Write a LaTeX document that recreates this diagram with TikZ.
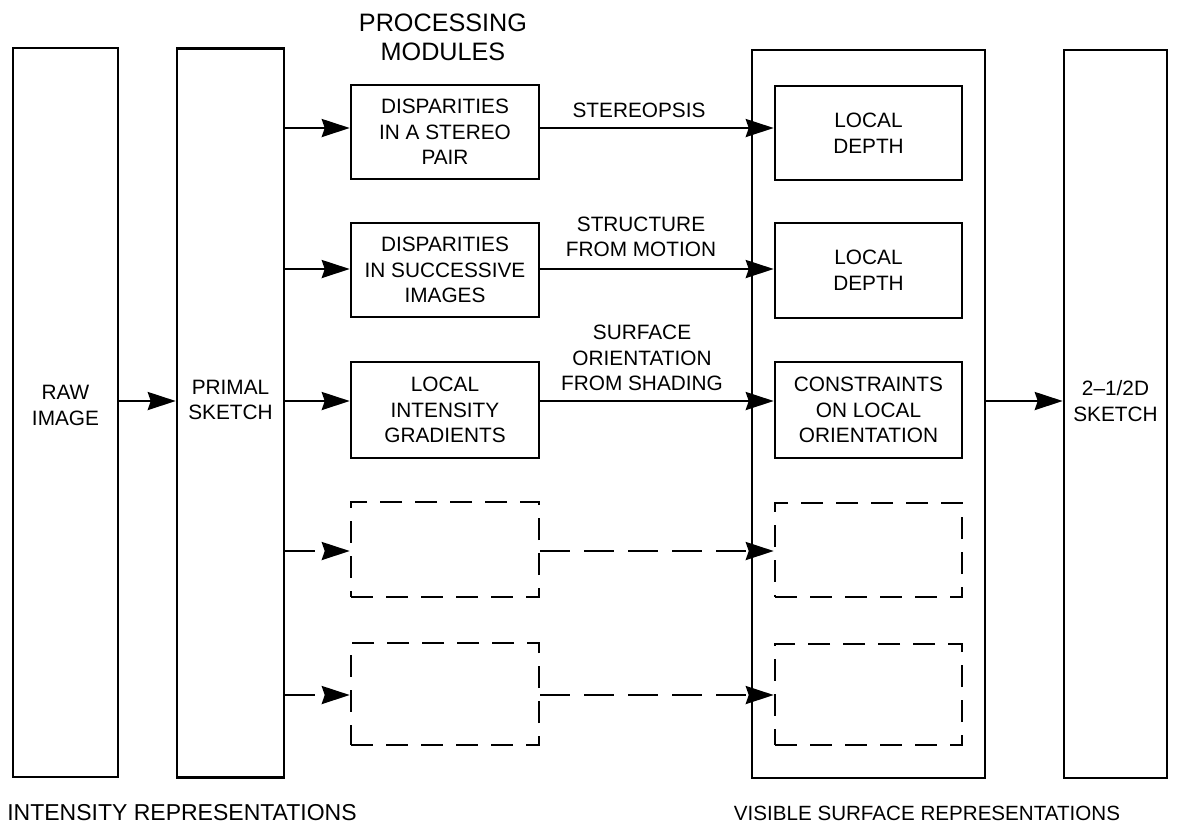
\documentclass[tikz,border=0pt]{standalone}
\usepackage{fontspec}
\setmainfont{Liberation Sans}
\usetikzlibrary{arrows.meta,positioning}

\begin{document}
\begin{tikzpicture}[
    x=.5pt,y=-.5pt,
    every node/.style={font=\fontsize{10.4}{12.8}\selectfont,align=center},
    blk/.style={draw,line width=1.25pt,rectangle,inner sep=0pt},
    col/.style={blk,minimum width=#1,minimum height=364.5pt},
    mod/.style={blk,minimum width=94pt,minimum height=47pt},
    ghost/.style={mod,dash pattern=on 11pt off 6.5pt},
    reptext/.style={font=\fontsize{#1}{13}\selectfont},
    e/.style={-{Stealth[length=14pt,width=9pt,inset=1.5pt]},line width=1.25pt},
    de/.style={e,dash pattern=on 15pt off 7pt}
  ]
    \useasboundingbox (0,0) rectangle (1177,827);
    % rows of arrows
    \coordinate (r1) at (0,128);
    \coordinate (r2) at (0,269);
    \coordinate (r3) at (0,401);
    \coordinate (r4) at (0,551);
    \coordinate (r5) at (0,695);

    \node[col=52.5pt,label={[yshift=3.5pt]center:RAW\\IMAGE}] (raw) at (65.5,412.5) {};
    \node[col=53.5pt,label={[yshift=6.5pt]center:PRIMAL\\SKETCH}] (primal) at (230.5,413) {};
    \node[font=\fontsize{12.6}{14.5}\selectfont] (title) at (443,37) {PROCESSING\\MODULES};

    \node[mod] (m1) at (445,132) {DISPARITIES\\IN A STEREO\\PAIR};
    \node[mod] (m2) at (445,270) {DISPARITIES\\IN SUCCESSIVE\\IMAGES};
    \node[mod,minimum height=48pt] (m3) at (445,410) {LOCAL\\INTENSITY\\GRADIENTS};
    \node[ghost,minimum height=47.5pt] (m4) at (445,549.5) {};
    \node[ghost,minimum height=51pt] (m5) at (445,694) {};

    \node[col=116.5pt,minimum height=364pt] (vis) at (868.5,414) {};
    \node[mod,minimum width=93.5pt] (d1) at (868.5,133) {LOCAL\\DEPTH};
    \node[mod,minimum width=93.5pt,minimum height=47.5pt] (d2) at (868.5,270.5) {LOCAL\\DEPTH};
    \node[mod,minimum width=93.5pt,minimum height=48pt] (d3) at (868.5,410) {CONSTRAINTS\\ON LOCAL\\ORIENTATION};
    \node[ghost,minimum width=93.5pt] (d4) at (868.5,550) {};
    \node[ghost,minimum width=93.5pt,minimum height=50.5pt] (d5) at (868.5,694.5) {};

    \node[col=51.5pt,minimum height=364pt,label={[yshift=6.5pt]center:2--1/2D\\SKETCH}] (sketch) at (1115.5,414) {};

    \node (l1) at (639,110) {STEREOPSIS};
    \node (l2) at (641,237) {STRUCTURE\\FROM MOTION};
    \node (l3) at (642,358) {SURFACE\\ORIENTATION\\FROM SHADING};

    \node[reptext=11.5] (intens) at (182,813) {INTENSITY REPRESENTATIONS};
    \node[reptext=10.3] (visib) at (927,813) {VISIBLE SURFACE REPRESENTATIONS};

    \draw[e] (raw.east |- r3) -- (primal.west |- r3);
    \foreach \i in {1,2,3} {
      \draw[e] (primal.east |- r\i) -- (m\i.west |- r\i);
      \draw[e] (m\i.east |- r\i) -- (d\i.west |- r\i);
    }
    \foreach \i in {4,5} {
      \draw[de] (primal.east |- r\i) -- (m\i.west |- r\i);
      \draw[de] (m\i.east |- r\i) -- (d\i.west |- r\i);
    }
    \draw[e] (vis.east |- r3) -- (sketch.west |- r3);
\end{tikzpicture}
\end{document}
